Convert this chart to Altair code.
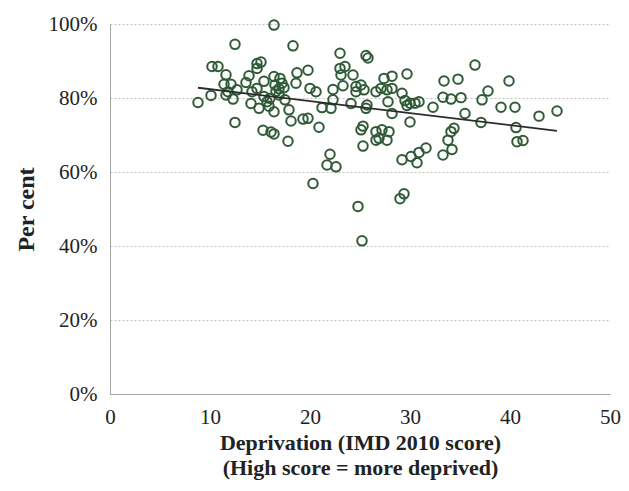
import altair as alt
import pandas as pd

# Deprivation score (x) and per cent (y)
imd = [8.8, 10.1, 10.2, 10.8, 11.4, 12.1, 11.6, 11.8, 11.6, 12.3, 12.5, 12.5, 12.7, 13.6, 13.9,
       14.7, 15.1, 14.7, 14.2, 14.7, 14.1, 14.9, 15.4, 15.4, 15.7, 15.9, 16.4, 15.3, 16.1, 16.4,
       16.4, 16.4, 17.0, 16.5, 16.9, 17.2, 16.9, 17.5, 17.9, 18.1, 17.8, 18.3, 18.7, 18.6, 16.0,
       17.4, 16.6,
       19.8, 20.0, 20.6, 19.3, 19.8, 20.9, 20.3, 22.0, 21.7, 22.6, 21.2, 22.1, 22.3, 22.3, 23.0,
       23.0, 23.5, 23.1, 23.3, 24.3, 24.6, 25.1, 24.6, 25.4, 24.1, 25.6, 25.8, 25.7, 25.6, 26.6,
       27.1, 27.7, 28.2, 27.4, 28.2, 29.7, 29.2, 29.5, 30.0, 30.5, 30.9, 27.8, 28.2, 30.0, 25.3,
       25.1, 26.6, 27.2, 27.9, 26.9, 27.7, 25.3, 24.8, 25.2, 29.0, 29.4, 29.2, 30.1, 30.7, 30.9,
       31.6,
       32.3, 33.4, 34.8, 33.3, 34.1, 35.1, 36.5, 37.8, 37.2, 35.5, 37.1, 39.1, 39.9, 40.5, 42.9,
       44.7, 40.6, 40.7, 41.3, 34.4, 34.1, 33.8, 34.2, 33.3, 29.7, 26.6]
pct = [78.8, 80.7, 88.5, 88.5, 83.7, 83.7, 86.3, 81.7, 80.8, 79.7, 73.4, 94.5, 82.2, 84.2, 86.0,
       89.3, 89.7, 88.0, 81.7, 82.6, 78.5, 77.2, 84.5, 80.4, 79.0, 77.8, 76.3, 71.3, 70.8, 70.3,
       99.7, 85.8, 85.3, 83.5, 82.5, 84.0, 80.8, 79.5, 76.8, 73.8, 68.3, 94.1, 86.8, 84.0, 79.9,
       82.8, 81.8,
       87.5, 82.6, 81.7, 74.3, 74.5, 72.1, 56.9, 64.8, 61.9, 61.4, 77.4, 77.2, 79.5, 82.3, 92.1,
       88.0, 88.5, 86.2, 83.3, 86.2, 83.1, 83.5, 81.7, 82.2, 78.5, 91.5, 90.8, 78.1, 77.2, 81.7,
       82.6, 82.2, 82.6, 85.3, 85.9, 86.5, 81.3, 79.3, 78.6, 78.6, 79.0, 79.0, 75.8, 73.5, 72.4,
       71.4, 70.9, 71.4, 70.9, 69.1, 68.6, 67.0, 50.7, 41.4, 52.8, 54.1, 63.3, 64.2, 62.5, 65.3,
       66.5,
       77.5, 84.6, 85.1, 80.2, 79.7, 80.1, 88.9, 81.9, 79.5, 75.8, 73.4, 77.5, 84.6, 77.5, 75.1,
       76.5, 72.0, 68.2, 68.5, 71.8, 70.9, 68.6, 66.1, 64.6, 78.0, 68.6]

y_ticks = [0, 20, 40, 60, 80, 100]
x_ticks = [0, 10, 20, 30, 40, 50]

df = pd.DataFrame({"imd": imd, "pct": [p / 100 for p in pct]})

FONT = "Liberation Serif"
GREEN = "#2f5a36"
TEXT = "#222222"

x_enc = alt.X("imd:Q",
              scale=alt.Scale(domain=[0, 50], nice=False, zero=True),
              axis=alt.Axis(values=x_ticks, title=["Deprivation (IMD 2010  score)",
                                                   "(High score = more deprived)"],
                            grid=False, ticks=False, domainColor="#a6a6a6",
                            labelFlush=False, labelFontSize=21, labelPadding=12,
                            labelColor=TEXT,
                            titleFontSize=22, titleFontWeight="bold", titlePadding=5,
                            titleColor=TEXT, titleLineHeight=25))
y_enc = alt.Y("pct:Q",
              scale=alt.Scale(domain=[0, 1], nice=False),
              axis=alt.Axis(values=[v / 100 for v in y_ticks], format=".0%", title="Per cent",
                            grid=True, gridDash=[2, 2], gridColor="#bfbfbf", gridWidth=1.2,
                            ticks=False, domainColor="#a6a6a6", labelFlush=False,
                            labelFontSize=21, labelPadding=13, labelColor=TEXT,
                            titleFontSize=24, titleFontWeight="bold", titlePadding=10,
                            titleColor=TEXT))

points = alt.Chart(df).mark_point(shape="circle", filled=False, size=90, opacity=1,
                                  strokeWidth=2, color=GREEN).encode(x=x_enc, y=y_enc)

trend = alt.Chart(df).transform_regression("imd", "pct").mark_line(
    color="#2b2b2b", strokeWidth=1.8).encode(x="imd:Q", y="pct:Q")

chart = alt.layer(points, trend).properties(
    width=500, height=370,
    autosize=alt.AutoSizeParams(type="none"),
    padding={"left": 102, "top": 16, "right": 11, "bottom": 89},
).configure(font=FONT).configure_view(stroke=None)

chart.save("out.html", embed_options={"renderer": "svg", "actions": False})
